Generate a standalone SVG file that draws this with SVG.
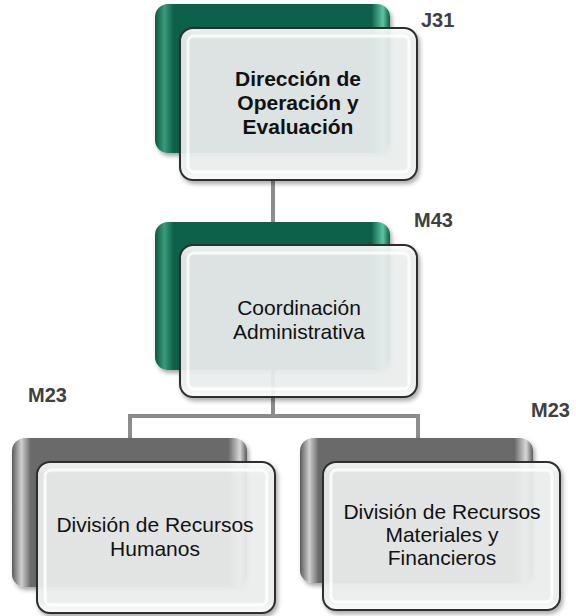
<svg xmlns="http://www.w3.org/2000/svg" width="576" height="616" viewBox="0 0 576 616">
<defs>
<linearGradient id="gGreen" x1="0" y1="0" x2="1" y2="0">
<stop offset="0" stop-color="#0c5a44"/>
<stop offset="0.04" stop-color="#3a9a7a"/>
<stop offset="0.08" stop-color="#0b6049"/>
<stop offset="0.92" stop-color="#0b6049"/>
<stop offset="0.97" stop-color="#5cc6a2"/>
<stop offset="1" stop-color="#0c5a44"/>
</linearGradient>
<linearGradient id="gGray" x1="0" y1="0" x2="1" y2="0">
<stop offset="0" stop-color="#5a5a5a"/>
<stop offset="0.04" stop-color="#cfcfcf"/>
<stop offset="0.08" stop-color="#6a6a6a"/>
<stop offset="0.92" stop-color="#6a6a6a"/>
<stop offset="0.97" stop-color="#d8d8d8"/>
<stop offset="1" stop-color="#5a5a5a"/>
</linearGradient>
<linearGradient id="gFront" x1="0" y1="0" x2="0" y2="1">
<stop offset="0" stop-color="#ffffff"/>
<stop offset="0.08" stop-color="#eef1f1"/>
<stop offset="0.92" stop-color="#eef1f1"/>
<stop offset="1" stop-color="#ffffff"/>
</linearGradient>
<filter id="sh" x="-10%" y="-10%" width="130%" height="130%">
<feDropShadow dx="2" dy="3" stdDeviation="2" flood-color="#000" flood-opacity="0.35"/>
</filter>
</defs>
<style>
.back{stroke:none;filter:url(#sh)}
.green{fill:url(#gGreen)}
.gray{fill:url(#gGray)}
.front{fill:url(#gFront);fill-opacity:0.9;stroke:#2e2e2e;stroke-width:2;filter:url(#sh)}
.bevel{fill:none;stroke:#ffffff;stroke-width:3;opacity:0.8}
.conn{fill:none;stroke:#8c8c8c;stroke-width:4}
.t{font-family:"Liberation Sans",Arial,sans-serif;font-size:21px;fill:#111;text-anchor:middle}
.tb{font-weight:bold}
.lbl{font-family:"Liberation Sans",Arial,sans-serif;font-size:20px;font-weight:bold;fill:#404040}
</style>
<g id="connectors">
<path class="conn" d="M273 180 V416"/>
<path class="conn" d="M130 440 V416 H418 V440"/>
</g>
<g id="n1">
<rect class="back green" x="155" y="4" width="235" height="149" rx="13"/>
<rect class="front" x="180" y="28" width="237" height="152" rx="13"/>
<rect class="bevel" x="188" y="36" width="221" height="136" rx="6"/>
<text class="t tb" x="298" y="86">Dirección de</text>
<text class="t tb" x="298" y="110">Operación y</text>
<text class="t tb" x="298" y="134">Evaluación</text>
<text class="lbl" x="421" y="27">J31</text>
</g>
<g id="n2">
<rect class="back green" x="155" y="222" width="235" height="148" rx="13"/>
<rect class="front" x="180" y="245" width="237" height="152" rx="13"/>
<rect class="bevel" x="188" y="253" width="221" height="136" rx="6"/>
<text class="t" x="299" y="315">Coordinación</text>
<text class="t" x="299" y="339">Administrativa</text>
<text class="lbl" x="414" y="227">M43</text>
</g>
<g id="n3">
<rect class="back gray" x="12" y="438" width="235" height="149" rx="13"/>
<rect class="front" x="37" y="462" width="238" height="151" rx="13"/>
<rect class="bevel" x="45" y="470" width="222" height="135" rx="6"/>
<text class="t" x="155" y="532">División de Recursos</text>
<text class="t" x="155" y="556">Humanos</text>
<text class="lbl" x="28" y="402">M23</text>
</g>
<g id="n4">
<rect class="back gray" x="300" y="438" width="233" height="145" rx="13"/>
<rect class="front" x="323" y="462" width="237" height="148" rx="13"/>
<rect class="bevel" x="331" y="470" width="221" height="132" rx="6"/>
<text class="t" x="442" y="519">División de Recursos</text>
<text class="t" x="442" y="542">Materiales y</text>
<text class="t" x="442" y="565">Financieros</text>
<text class="lbl" x="531" y="417">M23</text>
</g>
</svg>
